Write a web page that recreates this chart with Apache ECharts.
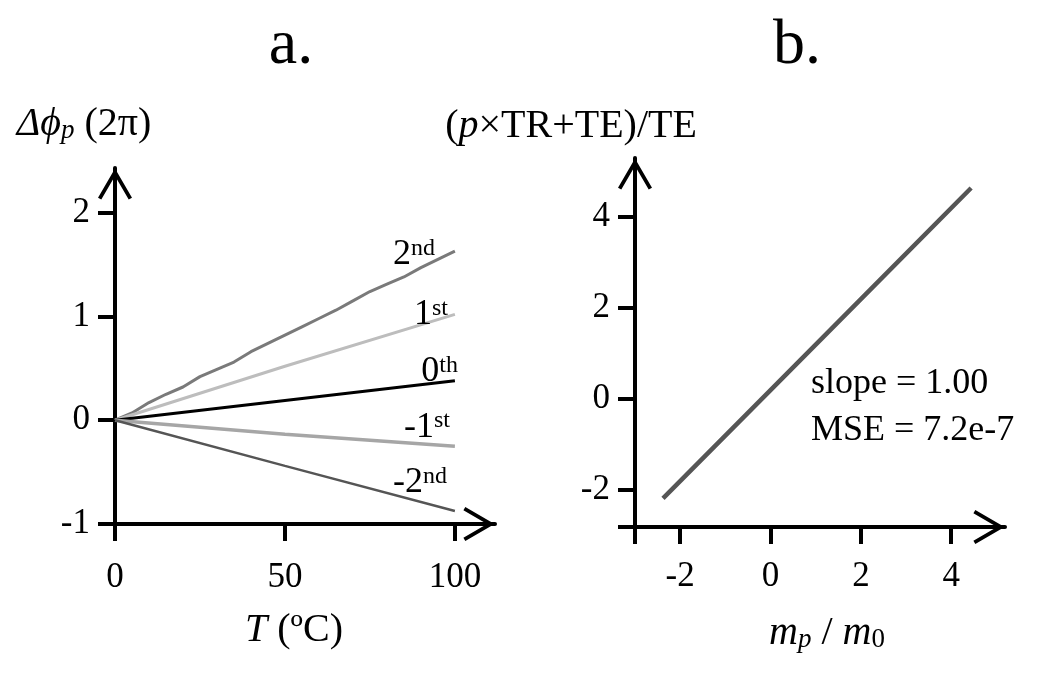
<!DOCTYPE html>
<html><head><meta charset="utf-8">
<script src="https://cdn.jsdelivr.net/npm/echarts@6/dist/echarts.min.js"></script>
<style>html,body{margin:0;padding:0;background:#fff}#c{width:1050px;height:678px}</style>
</head><body><div id="c"></div>
<script>
// ---------- data ----------
const tempC = [0, 5, 10, 15, 20, 25, 30, 35, 40, 45, 50, 55, 60, 65, 70, 75, 80, 85, 90, 95, 100];
const order2nd = [0, 0.07, 0.17, 0.25, 0.32, 0.42, 0.49, 0.56, 0.66, 0.74, 0.82, 0.90, 0.98, 1.06, 1.15, 1.24, 1.31, 1.38, 1.47, 1.55, 1.63];
const tempShort = [0, 50, 100];
const order1st = [0, 0.52, 1.02];
const order0th = [0, 0.19, 0.38];
const orderM1st = [0, -0.135, -0.25];
const orderM2nd = [0, -0.44, -0.875];

const ratioX = [-2.38, 0, 2, 4.44];
const ratioY = [-2.18, 0.2, 2.2, 4.64];

const ticksAX = [0, 50, 100];
const ticksAY = [-1, 0, 1, 2];
const ticksBX = [-2, 0, 2, 4];
const ticksBY = [-2, 0, 2, 4];

const FONT = 'Liberation Serif';
const ARROW = 'path://M0 0L18 31L14.5 33L0 8L-14.5 33L-18 31Z';

function pairs(xs, ys) { return xs.map((x, i) => [x, ys[i]]); }

const axisLineStyle = {
  show: true, onZero: false,
  symbol: ['none', ARROW], symbolSize: [34, 32], symbolOffset: [0, -16],
  lineStyle: { color: '#000', width: 4 }
};
const tickStyle = (vals) => ({ show: true, length: 17, customValues: vals, lineStyle: { color: '#000', width: 4 } });
const labelStyle = (vals, margin) => ({ customValues: vals, margin: margin, color: '#000', fontFamily: FONT, fontSize: 35 });

const rich = {
  n: { fontFamily: FONT, fontSize: 36, color: '#000' },
  nm: { fontFamily: FONT, fontSize: 40, color: '#000' },
  i: { fontFamily: FONT, fontSize: 40, fontStyle: 'italic', color: '#000' },
  sub: { fontFamily: FONT, fontSize: 27, fontStyle: 'italic', color: '#000', verticalAlign: 'bottom', lineHeight: 16 },
  sub0: { fontFamily: FONT, fontSize: 27, color: '#000', verticalAlign: 'bottom', lineHeight: 16 },
  sup: { fontFamily: FONT, fontSize: 24, color: '#000', verticalAlign: 'top', lineHeight: 30 }
};

function endMark(x, y, txt, dx, dy) {
  return {
    symbolSize: 0,
    silent: true,
    data: [{ coord: [x, y] }],
    label: { show: true, position: 'left', distance: 0, offset: [dx, dy], formatter: txt, rich: rich }
  };
}

const chart = echarts.init(document.getElementById('c'));
chart.setOption({
  backgroundColor: '#fff',
  animation: false,
  textStyle: { fontFamily: FONT },
  grid: [
    { left: 115, top: 168, width: 380, height: 356 },
    { left: 635, top: 158, width: 370, height: 369 }
  ],
  xAxis: [
    {
      gridIndex: 0, type: 'value', min: 0, max: 111.8,
      axisLine: axisLineStyle, axisTick: tickStyle(ticksAX), axisLabel: labelStyle(ticksAX, 36),
      splitLine: { show: false },
      name: '{i|T}{nm| (ºC)}', nameLocation: 'middle', nameGap: 86,
      nameTextStyle: { rich: rich, padding: [0, 22, 0, 0] }
    },
    {
      gridIndex: 1, type: 'value', min: -3, max: 5.19,
      axisLine: axisLineStyle, axisTick: tickStyle([-3].concat(ticksBX)), axisLabel: labelStyle(ticksBX, 32),
      splitLine: { show: false },
      name: '{i|m}{sub|p}{nm| / }{i|m}{sub0|0}', nameLocation: 'middle', nameGap: 86,
      nameTextStyle: { rich: rich, padding: [0, 0, 0, 14] }
    }
  ],
  yAxis: [
    {
      gridIndex: 0, type: 'value', min: -1, max: 2.43,
      axisLine: axisLineStyle, axisTick: tickStyle(ticksAY), axisLabel: labelStyle(ticksAY, 25),
      splitLine: { show: false },
      name: '{i|Δϕ}{sub|p}{nm| (2π)}', nameLocation: 'end', nameGap: 24,
      nameTextStyle: { rich: rich, align: 'center', padding: [0, 62, 0, 0] }
    },
    {
      gridIndex: 1, type: 'value', min: -2.81, max: 5.3,
      axisLine: axisLineStyle, axisTick: tickStyle([-2.81].concat(ticksBY)), axisLabel: labelStyle(ticksBY, 25),
      splitLine: { show: false },
      name: '{nm|(}{i|p}{nm|×TR+TE)/TE}', nameLocation: 'end', nameGap: 12,
      nameTextStyle: { rich: rich, align: 'center', padding: [0, 128, 0, 0] }
    }
  ],
  series: [
    { type: 'line', xAxisIndex: 0, yAxisIndex: 0, data: pairs(tempC, order2nd), showSymbol: false, z: 3,
      lineStyle: { color: '#7a7a7a', width: 3 }, markPoint: endMark(100, 1.63, '{n|2}{sup|nd}', -20, 4) },
    { type: 'line', xAxisIndex: 0, yAxisIndex: 0, data: pairs(tempShort, order1st), showSymbol: false, z: 3,
      lineStyle: { color: '#bdbdbd', width: 3 }, markPoint: endMark(100, 1.02, '{n|1}{sup|st}', -7, 0) },
    { type: 'line', xAxisIndex: 0, yAxisIndex: 0, data: pairs(tempShort, order0th), showSymbol: false, z: 3,
      lineStyle: { color: '#000', width: 3 }, markPoint: endMark(100, 0.38, '{n|0}{sup|th}', 3, -9) },
    { type: 'line', xAxisIndex: 0, yAxisIndex: 0, data: pairs(tempShort, orderM1st), showSymbol: false, z: 3,
      lineStyle: { color: '#a6a6a6', width: 3.5 }, markPoint: endMark(100, -0.25, '{n|-1}{sup|st}', -5, -19) },
    { type: 'line', xAxisIndex: 0, yAxisIndex: 0, data: pairs(tempShort, orderM2nd), showSymbol: false, z: 3,
      lineStyle: { color: '#555', width: 2.5 }, markPoint: endMark(100, -0.875, '{n|-2}{sup|nd}', -8, -28) },
    { type: 'line', xAxisIndex: 1, yAxisIndex: 1, data: pairs(ratioX, ratioY), showSymbol: false, z: 3,
      lineStyle: { color: '#555', width: 4.5 } }
  ],
  graphic: [
    { type: 'text', x: 291, y: 46, style: { text: 'a.', font: '64px "Liberation Serif"', fill: '#000', align: 'center', verticalAlign: 'middle' } },
    { type: 'text', x: 797, y: 46, style: { text: 'b.', font: '64px "Liberation Serif"', fill: '#000', align: 'center', verticalAlign: 'middle' } },
    { type: 'text', x: 811, y: 360, style: { text: 'slope = 1.00\nMSE = 7.2e-7', font: '36px "Liberation Serif"', lineHeight: 47, fill: '#000', align: 'left', verticalAlign: 'top' } }
  ]
});
</script></body></html>
